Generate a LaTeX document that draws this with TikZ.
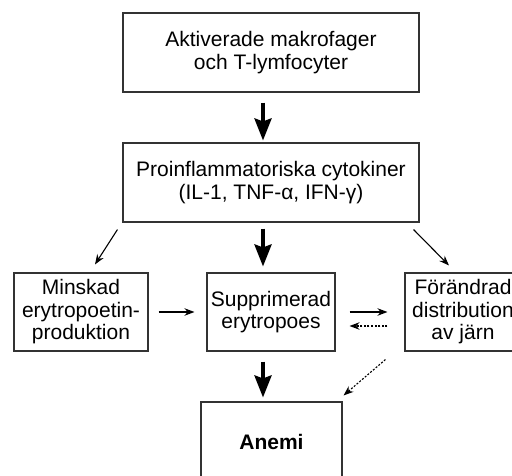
\documentclass[tikz,border=0pt]{standalone}
\usepackage{fontspec}
\setmainfont{Liberation Sans}
\usetikzlibrary{arrows.meta}
\tikzset{
    box/.style={draw=black!80, line width=1.1pt, align=center, inner sep=0pt, font=\fontsize{21}{22.5}\selectfont}, % rutor
    bigarrow/.style={line width=3.6pt, -{Stealth[length=22pt, width=17pt, inset=3pt]}}, % tjocka pilar
    thinarrow/.style={line width=1.1pt, -{Stealth[length=10pt, width=7.5pt]}}, % tunna pilar
    dotarrow/.style={thinarrow, dash pattern=on 2pt off 1.6pt} % streckade pilar
}

\begin{document}
\begin{tikzpicture}[x=1pt, y=-1pt]
    \def\W{512} \def\H{476}
    \useasboundingbox (0,0) rectangle (\W,\H);
    \clip (0,0) rectangle (\W,\H);

    \node[box, minimum width=296pt, minimum height=79pt] (akt) at (271,52.5) {Aktiverade makrofager\\och T-lymfocyter};
    \node[box, minimum width=296pt, minimum height=79pt] (cyto) at (271,182.5) {Proinflammatoriska cytokiner\\(IL-1, TNF-α, IFN-γ)};
    \node[box, minimum width=134pt, minimum height=78pt] (minskad) at (81,312) {Minskad\\erytropoetin-\\produktion};
    \node[box, minimum width=128pt, minimum height=78pt] (suppr) at (271,312) {Supprimerad\\erytropoes};
    \node[box, minimum width=116pt, minimum height=78pt] (forand) at (463,312) {Förändrad\\distribution\\av järn};
    \node[box, minimum width=141pt, minimum height=80pt] (anemi) at (271.5,442) {\bfseries Anemi};

    \draw[bigarrow] ([xshift=-8pt,yshift=-10pt]akt.south) -- ([xshift=-8pt,yshift=2pt]cyto.north);
    \draw[bigarrow] ([xshift=-8pt,yshift=-6pt]cyto.south) -- ([xshift=-8pt,yshift=6pt]suppr.north);
    \draw[bigarrow] ([xshift=-8pt,yshift=-10pt]suppr.south) -- ([xshift=-8.5pt,yshift=4pt]anemi.north);

    \draw[thinarrow] ([xshift=-5pt,yshift=-7pt]cyto.south west) -- ([xshift=14pt,yshift=8pt]minskad.north);
    \draw[thinarrow] ([xshift=-6pt,yshift=-7pt]cyto.south east) -- ([xshift=-14pt,yshift=7pt]forand.north);
    \draw[thinarrow] ([xshift=10pt]minskad.east) -- ([xshift=-12pt]suppr.west);
    \draw[thinarrow] ([xshift=14pt]suppr.east) -- ([xshift=-17pt]forand.west);
    \draw[dotarrow] ([xshift=-17pt,yshift=-14pt]forand.west) -- ([xshift=14pt,yshift=-14pt]suppr.east);
    \draw[dotarrow] ([xshift=-19pt,yshift=-8pt]forand.south west) -- ([xshift=1pt,yshift=6pt]anemi.north east);
\end{tikzpicture}
\end{document}
